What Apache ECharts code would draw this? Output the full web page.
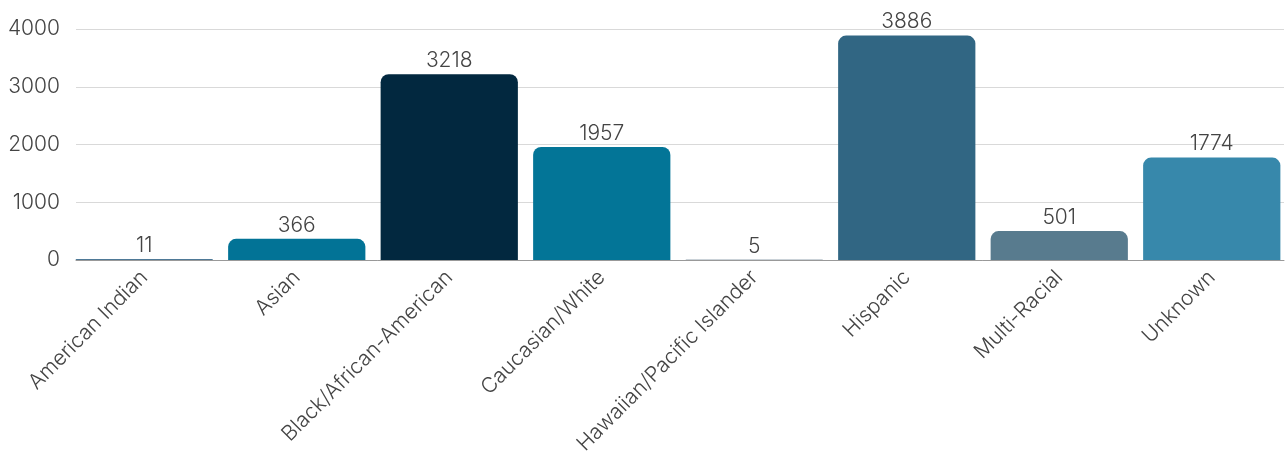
<!DOCTYPE html>
<html><head><meta charset="utf-8">
<script src="https://cdn.jsdelivr.net/npm/echarts@6/dist/echarts.min.js"></script>
<style>html,body{margin:0;padding:0;background:#fff}#c{width:1288px;height:460px}</style>
</head><body><div id="c"></div>
<script>
const categories = ["American Indian","Asian","Black/African-American","Caucasian/White","Hawaiian/Pacific Islander","Hispanic","Multi-Racial","Unknown"];
const values = [11,366,3218,1957,5,3886,501,1774];
const barColors = ["#144e75","#027396","#02283f","#037597","#2e4d66","#316683","#587b8e","#3788ab"];
const yTicks = [0,1000,2000,3000,4000];

const chart = echarts.init(document.getElementById('c'));
const font = "Inter, Roboto, sans-serif";
const txt = {color:'#444',fontSize:21,fontFamily:font,fontWeight:300};
chart.setOption({
  animation:false,
  grid:[
    {left:68,right:-4,top:29,bottom:200,containLabel:false},
    {left:76,right:4,top:29,bottom:200,containLabel:false}
  ],
  xAxis:[
    {type:'category',data:categories,gridIndex:0,
     axisLine:{show:false},axisTick:{show:false},
     axisLabel:Object.assign({rotate:45,interval:0,margin:14},txt)},
    {type:'category',data:[''],gridIndex:1,
     axisLine:{lineStyle:{color:'#999',width:1}},axisTick:{show:false},axisLabel:{show:false}}
  ],
  yAxis:[
    {type:'value',gridIndex:0,min:yTicks[0],max:yTicks[yTicks.length-1],interval:1000,
     axisLine:{show:false},axisTick:{show:false},splitLine:{show:false},axisLabel:{show:false}},
    {type:'value',gridIndex:1,min:yTicks[0],max:yTicks[yTicks.length-1],interval:1000,
     axisLine:{show:false},axisTick:{show:false},
     splitLine:{lineStyle:{color:'#d9d9d9',width:1}},
     axisLabel:Object.assign({margin:16,formatter:v=>String(v)},txt)}
  ],
  series:[{type:'bar',xAxisIndex:0,yAxisIndex:0,barCategoryGap:'10%',z:3,
    data:values.map((v,i)=>({value:v,itemStyle:{color:barColors[i]}})),
    itemStyle:{borderRadius:[8,8,0,0]},
    label:Object.assign({show:true,position:'top',distance:3},txt)}]
});
</script></body></html>
